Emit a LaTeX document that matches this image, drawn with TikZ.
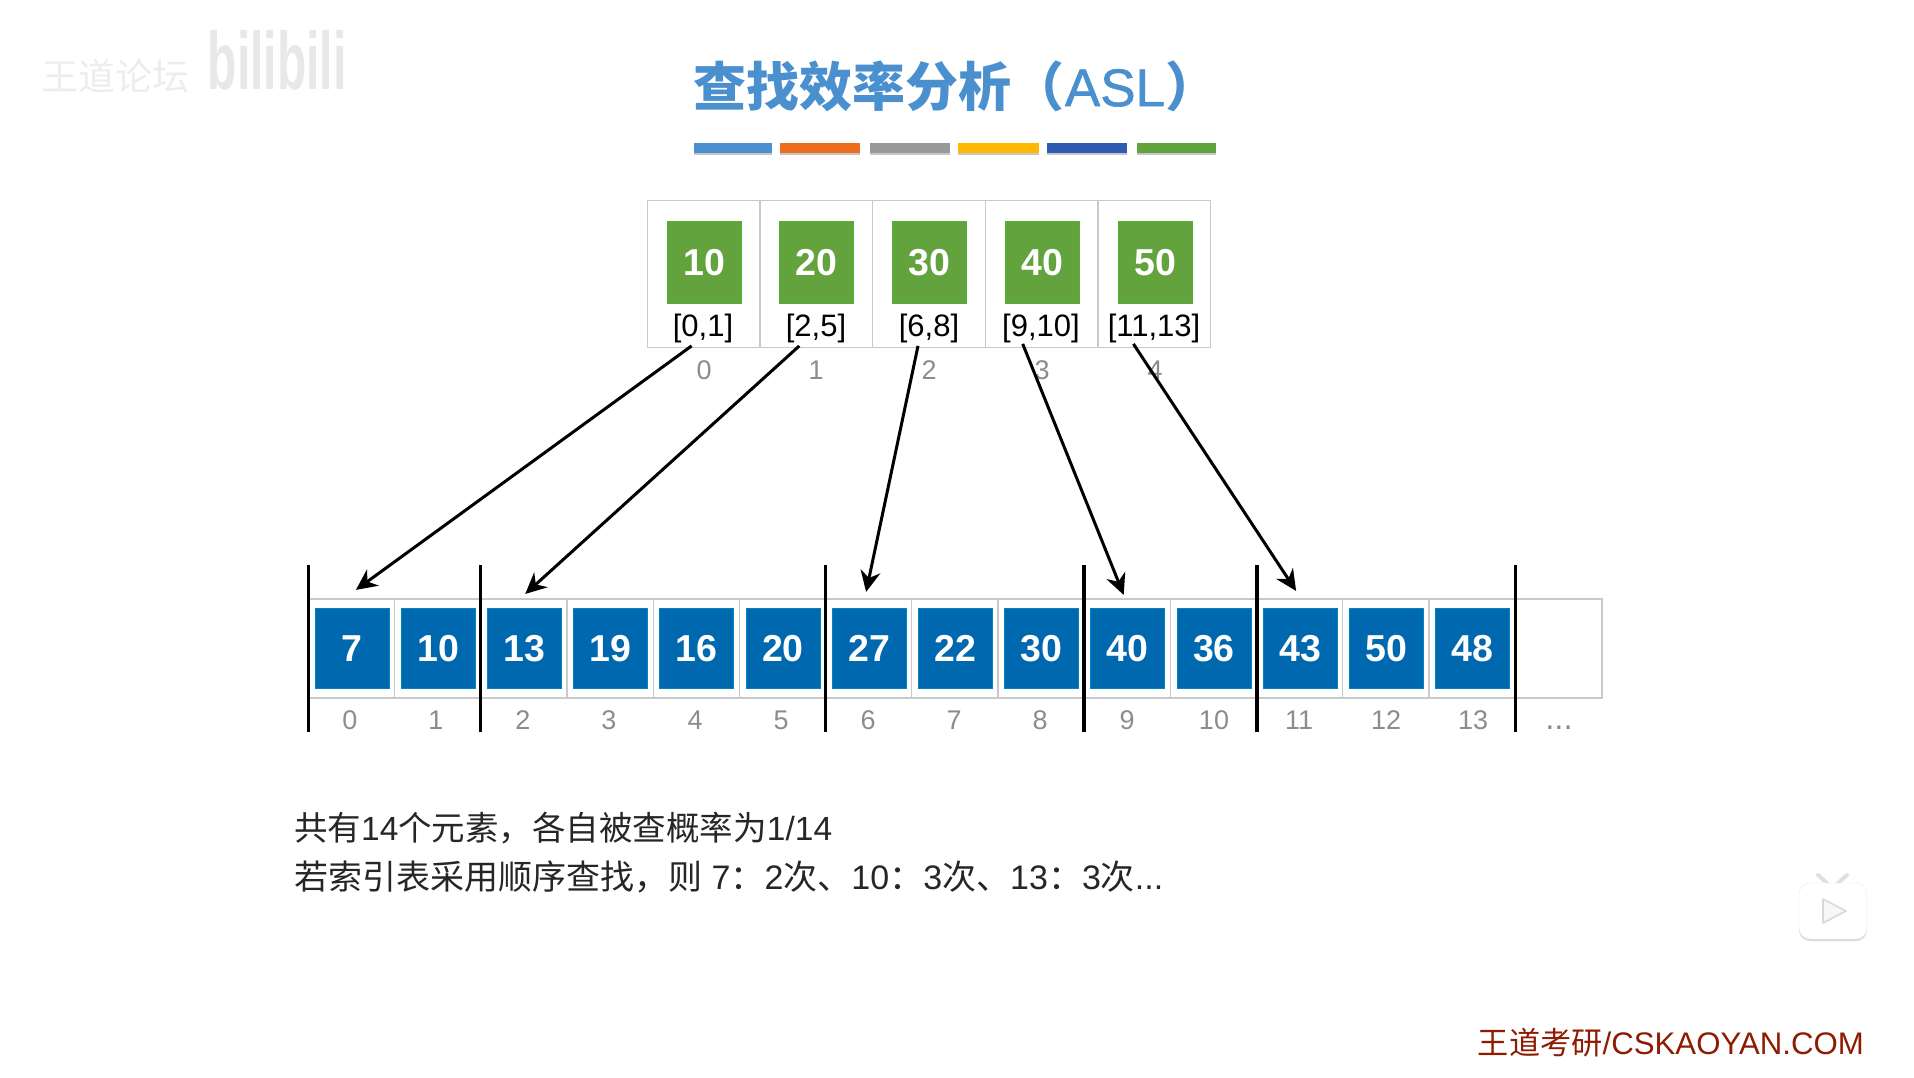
\documentclass[tikz,border=0pt]{standalone}
\usepackage{fontspec}
\setmainfont{Liberation Sans}
\newfontfamily\cjk{Noto Sans CJK SC}
\newfontfamily\asl[FakeBold=1.2]{Liberation Sans}
\usetikzlibrary{arrows.meta,shadows}
\newcommand{\fsz}[1]{\fontsize{#1}{#1}\selectfont}
\newcommand{\zh}[1]{{\cjk #1}}
\definecolor{titleblue}{HTML}{4A90CE}
\definecolor{cellgray}{HTML}{C9C9C9}
\definecolor{idxgray}{HTML}{8C8C8C}
\definecolor{boxblue}{HTML}{0068AF}
\definecolor{boxgreen}{HTML}{63A33D}
\definecolor{barorange}{HTML}{ED6D1F}
\definecolor{bargray}{HTML}{999999}
\definecolor{bargold}{HTML}{FFB900}
\definecolor{bardark}{HTML}{2F5CB0}
\definecolor{siteRed}{HTML}{8E1C02}
\tikzset{
  bar/.style={minimum height=10pt,inner sep=0pt,drop shadow={shadow xshift=0pt,shadow yshift=-2pt,opacity=0.45}},
  topcell/.style={draw=cellgray,line width=1.2pt,minimum width=112.7pt,minimum height=146.6pt,inner sep=0pt},
  lowcell/.style={draw=cellgray,line width=1.2pt,minimum width=86.2pt,minimum height=99pt,inner sep=0pt},
  greenbox/.style={fill=boxgreen,draw=boxgreen!85!green,line width=0.8pt,text=white,minimum width=74pt,minimum height=81.6pt,inner sep=0pt,font=\fsz{37.5}\bfseries},
  bluebox/.style={fill=boxblue,draw=boxblue!80!cyan,line width=0.8pt,text=white,minimum width=74pt,minimum height=80.4pt,inner sep=0pt,font=\fsz{37.5}\bfseries},
  rng/.style={font=\fsz{31},text=black,inner sep=0pt},
  idx/.style={font=\fsz{27},text=idxgray,anchor=base,inner sep=0pt},
  ptr/.style={-{Stealth[length=21pt,width=20pt]},line width=3pt,black},
  sep/.style={line width=3.4pt,black},
  line/.style={anchor=west,font=\fsz{34},text=black!85,inner sep=0pt},
}
\begin{document}
\begin{tikzpicture}[x=1pt, y=-1pt]
	  \useasboundingbox (0,0) rectangle (1914,1077);

	  \node [font=\fsz{37},text=black!7] (wm1) at (115,76) {\zh{王道论坛}};
	  \node [font=\fsz{48}\bfseries,text=black!9,yscale=1.7,transform shape] (wm2) at (277,60) {bilibili};

	  \node [font=\fsz{53}\bfseries,text=titleblue] (title) at (956,86) {\zh{查找效率分析（}{\asl\mdseries ASL}\zh{）}};

	  \node [bar,fill=titleblue,minimum width=78pt]  (bar1) at (733,148) {};
	  \node [bar,fill=barorange,minimum width=80pt]  (bar2) at (820,148) {};
	  \node [bar,fill=bargray,minimum width=80pt]    (bar3) at (909.5,148) {};
	  \node [bar,fill=bargold,minimum width=81pt]    (bar4) at (998.5,148) {};
	  \node [bar,fill=bardark,minimum width=80pt]    (bar5) at (1086.5,148) {};
	  \node [bar,fill=boxgreen,minimum width=79pt]   (bar6) at (1176.5,148) {};

	  \node [topcell] (t0) at (703.6,274) {};
	  \node [topcell] (t1) at (816.3,274) {};
	  \node [topcell] (t2) at (929,274) {};
	  \node [topcell] (t3) at (1041.7,274) {};
	  \node [topcell] (t4) at (1154.4,274) {};

	  \node [greenbox] (g0) at (704,262.5) {10};
	  \node [greenbox] (g1) at (816.5,262.5) {20};
	  \node [greenbox] (g2) at (929,262.5) {30};
	  \node [greenbox] (g3) at (1042,262.5) {40};
	  \node [greenbox] (g4) at (1155,262.5) {50};

	  \node [rng] (r0) at (703,328) {[0,1]};
	  \node [rng] (r1) at (816,328) {[2,5]};
	  \node [rng] (r2) at (929,328) {[6,8]};
	  \node [rng] (r3) at (1041,328) {[9,10]};
	  \node [rng] (r4) at (1154,328) {[11,13]};

	  \node [idx] (ti0) at (704,379) {0};
	  \node [idx] (ti1) at (816,379) {1};
	  \node [idx] (ti2) at (929,379) {2};
	  \node [idx] (ti3) at (1042,379) {3};
	  \node [idx] (ti4) at (1155,379) {4};

	  \node [lowcell] (c0) at (351.5,648.5) {};
	  \node [lowcell] (c1) at (437.7,648.5) {};
	  \node [lowcell] (c2) at (523.9,648.5) {};
	  \node [lowcell] (c3) at (610.1,648.5) {};
	  \node [lowcell] (c4) at (696.3,648.5) {};
	  \node [lowcell] (c5) at (782.5,648.5) {};
	  \node [lowcell] (c6) at (868.7,648.5) {};
	  \node [lowcell] (c7) at (954.9,648.5) {};
	  \node [lowcell] (c8) at (1041.1,648.5) {};
	  \node [lowcell] (c9) at (1127.3,648.5) {};
	  \node [lowcell] (c10) at (1213.5,648.5) {};
	  \node [lowcell] (c11) at (1299.7,648.5) {};
	  \node [lowcell] (c12) at (1385.9,648.5) {};
	  \node [lowcell] (c13) at (1472.1,648.5) {};
	  \node [lowcell] (c14) at (1558.8,648.5) {};

	  \node [bluebox] (b0) at (351.9,648.5) {7};
	  \node [bluebox] (b1) at (438.1,648.5) {10};
	  \node [bluebox] (b2) at (524.3,648.5) {13};
	  \node [bluebox] (b3) at (610.5,648.5) {19};
	  \node [bluebox] (b4) at (696.7,648.5) {16};
	  \node [bluebox] (b5) at (782.9,648.5) {20};
	  \node [bluebox] (b6) at (869.1,648.5) {27};
	  \node [bluebox] (b7) at (955.3,648.5) {22};
	  \node [bluebox] (b8) at (1041.5,648.5) {30};
	  \node [bluebox] (b9) at (1127.7,648.5) {40};
	  \node [bluebox] (b10) at (1213.9,648.5) {36};
	  \node [bluebox] (b11) at (1300.1,648.5) {43};
	  \node [bluebox] (b12) at (1386.3,648.5) {50};
	  \node [bluebox] (b13) at (1472.5,648.5) {48};

	  \node [idx] (n0) at (350,729.5) {0};
	  \node [idx] (n1) at (436,729.5) {1};
	  \node [idx] (n2) at (523,729.5) {2};
	  \node [idx] (n3) at (609,729.5) {3};
	  \node [idx] (n4) at (695,729.5) {4};
	  \node [idx] (n5) at (781,729.5) {5};
	  \node [idx] (n6) at (868,729.5) {6};
	  \node [idx] (n7) at (954,729.5) {7};
	  \node [idx] (n8) at (1040,729.5) {8};
	  \node [idx] (n9) at (1127,729.5) {9};
	  \node [idx] (n10) at (1214,729.5) {10};
	  \node [idx] (n11) at (1299,729.5) {11};
	  \node [idx] (n12) at (1386,729.5) {12};
	  \node [idx] (n13) at (1473,729.5) {13};
	  \node [idx,font=\fsz{33}] (n14) at (1559,729.5) {...};

	  \draw [sep] (308.4,565) -- (308.4,731.7);
	  \draw [sep] (480.6,565) -- (480.6,731.7);
	  \draw [sep] (825.5,565) -- (825.5,731.7);
	  \draw [sep] (1084,565) -- (1084,731.7);
	  \draw [sep] (1257,565) -- (1257,731.7);
	  \draw [sep] (1515.5,565) -- (1515.5,731.7);

	  \draw [ptr] ([xshift=-12pt,yshift=2pt]t0.south) to ([xshift=4pt,yshift=18pt]b0.north);
	  \draw [ptr] ([xshift=-17pt,yshift=2pt]t1.south) to ([xshift=1pt,yshift=14pt]b2.north);
	  \draw [ptr] ([xshift=-11pt,yshift=2pt]t2.south) to ([xshift=-3pt,yshift=16pt]b6.north);
	  \draw [ptr] ([xshift=-19pt,yshift=4pt]t3.south) to ([xshift=-4pt,yshift=13pt]b9.north);
	  \draw [ptr] ([xshift=-21pt,yshift=4pt]t4.south) to ([xshift=-4pt,yshift=17pt]b11.north);

	  \node [line,font=\fsz{33.5}] (txt1) at (294,828.5) {\zh{共有}14\zh{个元素，各自被查概率为}1/14};
	  \node [line] (txt2) at (294,876.5) {\zh{若索引表采用顺序查找，则} 7\zh{：}2\zh{次、}10\zh{：}3\zh{次、}13\zh{：}3\zh{次}...};

	  \node [anchor=east,font=\fsz{31.2},text=siteRed,inner sep=0pt] (site) at (1864,1043) {\zh{王道考研}/CSKAOYAN.COM};

	  \draw [black!12,line width=4pt,line cap=round] (1818,875) -- (1829,885);
	  \draw [black!12,line width=4pt,line cap=round] (1847,875) -- (1836,885);
	  \node [fill=white,draw=black!8,rounded corners=11pt,minimum width=68pt,minimum height=56pt,inner sep=0pt,
	         drop shadow={shadow xshift=0pt,shadow yshift=-2pt,opacity=0.3}] (tv) at (1833,911) {};
	  \draw [black!15,fill=black!3,line width=1.6pt,line join=round] (1823,899) -- (1846,911) -- (1823,923) -- cycle;
	\end{tikzpicture}
\end{document}
